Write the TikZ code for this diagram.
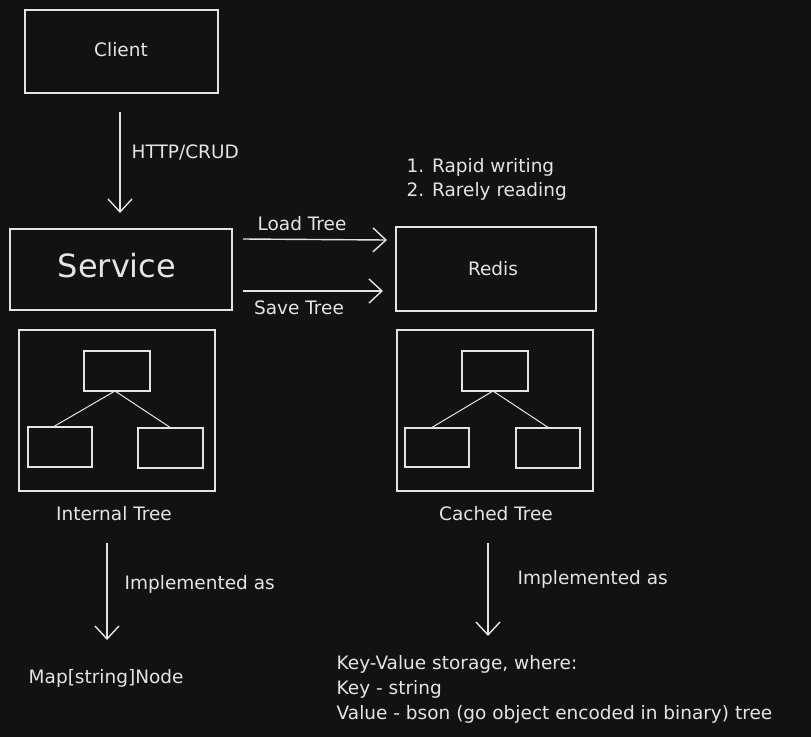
\documentclass[tikz,border=0pt]{standalone}
\usepackage{fontspec}
\setmainfont{DejaVu Sans}
\usetikzlibrary{arrows.meta}
\definecolor{bg}{HTML}{121212}
\definecolor{ink}{HTML}{E4E4E4}
\begin{document}
\begin{tikzpicture}[x=1pt,y=-1pt,
  line width=1.4pt, draw=ink, text=ink,
  box/.style={draw=ink, line width=1.4pt},
  arr/.style={draw=ink, line width=1.4pt, -{Straight Barb[length=13pt,width=24pt,line width=1.4pt]}},
  lbl/.style={text=ink, font=\fontsize{18.5}{22}\selectfont, inner sep=0pt},
  lnk/.style={draw=ink, line width=1pt}]
\fill[bg] (0,0) rectangle (811,737);
\useasboundingbox (0,0) rectangle (811,737);
% Client
\draw[box] (25,10) rectangle (218,93);
\node[lbl] (client) at (121,50) {Client};
\coordinate (c1) at (120,112);
\coordinate (c2) at (120,213);
\draw[arr] (c1) -- (c2);
\node[lbl, anchor=west] (http) at (131,152) {HTTP/CRUD};
% Service
\draw[box] (10,229) rectangle (232,310);
\node[lbl, font=\fontsize{32}{38}\selectfont] (service) at (117,266) {Service};
% Redis
\draw[box] (396,227) rectangle (596,311);
\node[lbl] (redis) at (493,269) {Redis};
\node[lbl, anchor=west] (r1) at (406,167) {1. Rapid writing};
\node[lbl, anchor=west] (r2) at (406,191) {2. Rarely reading};
% Load / Save
\coordinate (l1) at (243,239);
\coordinate (l2) at (387,240);
\draw[arr] (l1) -- (l2);
\node[lbl] (load) at (302,224) {Load Tree};
\coordinate (s1) at (243,291);
\coordinate (s2) at (383,291);
\draw[arr] (s1) -- (s2);
\node[lbl] (save) at (299,308) {Save Tree};
% Internal tree
\draw[box] (19,330) rectangle (215,491);
\draw[box] (84,351) rectangle (150,391);
\draw[box] (28,427) rectangle (92,467);
\draw[box] (138,428) rectangle (203,468);
\coordinate (it) at (115,391);
\coordinate (il) at (53,427);
\coordinate (ir) at (171,428);
\draw[lnk] (it) -- (il);
\draw[lnk] (it) -- (ir);
\node[lbl] (internal) at (114,514) {Internal Tree};
% Cached tree
\draw[box] (397,330) rectangle (593,491);
\draw[box] (462,351) rectangle (528,391);
\draw[box] (405,428) rectangle (469,467);
\draw[box] (516,428) rectangle (580,468);
\coordinate (ct) at (493,391);
\coordinate (cl) at (431,428);
\coordinate (cr) at (549,428);
\draw[lnk] (ct) -- (cl);
\draw[lnk] (ct) -- (cr);
\node[lbl] (cached) at (496,514) {Cached Tree};
% Implemented as
\coordinate (a1) at (107,543);
\coordinate (a2) at (107,640);
\draw[arr] (a1) -- (a2);
\node[lbl, anchor=west] (imp1) at (124,584) {Implemented as};
\coordinate (b1) at (488,543);
\coordinate (b2) at (488,636);
\draw[arr] (b1) -- (b2);
\node[lbl, anchor=west] (imp2) at (517,579) {Implemented as};
% Bottom texts
\node[lbl, anchor=west] (map) at (28,678) {Map[string]Node};
\node[lbl, anchor=west] (kv1) at (336,664) {Key-Value storage, where:};
\node[lbl, anchor=west] (kv2) at (336,689) {Key - string};
\node[lbl, anchor=west] (kv3) at (336,714) {Value - bson (go object encoded in binary) tree};
\end{tikzpicture}
\end{document}
